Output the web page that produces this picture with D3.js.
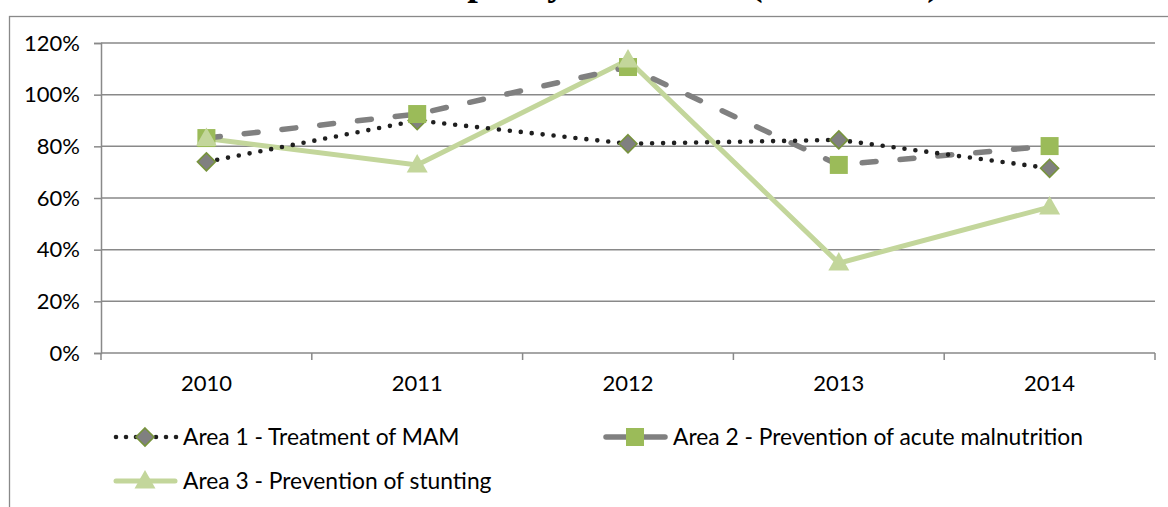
<!DOCTYPE html>
<html>
<meta charset=utf-8>
<head>
  <style>
    body { margin: 0; background: #fff; }
    svg { display: block; }
    text { font-family: Lato, "Noto Sans", sans-serif; fill: #000; }
  </style>
</head>
<body>
<svg id="canvas" width="1168" height="507"></svg>
<script src="https://d3js.org/d3.v7.min.js"></script>
<script>

var years = ['2010', '2011', '2012', '2013', '2014']
var yTicks = [0, 0.2, 0.4, 0.6, 0.8, 1.0, 1.2]

var area1 = [0.74, 0.90, 0.81, 0.825, 0.715]
var area2 = [0.832, 0.925, 1.107, 0.728, 0.801]
var area3 = [0.83, 0.728, 1.134, 0.348, 0.565]

var seriesNames = [
  'Area 1 - Treatment of MAM',
  'Area 2 - Prevention of acute malnutrition',
  'Area 3 - Prevention of stunting'
]

var svg = d3.select('#canvas')
var gridColor = '#898989'

// chart frame (cut off at right and bottom)
svg.append('rect')
  .attr('x', 9.5).attr('y', 16.5)
  .attr('width', 1200).attr('height', 600)
  .attr('fill', 'none')
  .attr('stroke', gridColor)
  .attr('stroke-width', 1.3)

// title, sits above the visible area - only descenders show
svg.append('text')
  .attr('x', 940).attr('y', -5)
  .attr('text-anchor', 'end')
  .style('font-family', '"Liberation Serif", serif')
  .style('font-weight', 'bold')
  .style('font-size', '38px')
  .text('Overall nutrition capacity utilization (2010-2014)')

var x = d3.scaleBand().domain(years).range([101, 1155])
var y = d3.scaleLinear().domain([0, 1.2]).range([353, 43])

// gridlines
svg.append('g')
  .selectAll('line')
  .data(yTicks.slice(1))
  .enter().append('line')
  .attr('x1', 101).attr('x2', 1155)
  .attr('y1', function(d) { return y(d) })
  .attr('y2', function(d) { return y(d) })
  .attr('stroke', gridColor)
  .attr('stroke-width', 1.5)

// y axis
var yAxis = svg.append('g')
  .attr('transform', 'translate(101,0)')
  .call(d3.axisLeft(y).tickValues(yTicks).tickSize(7).tickPadding(14)
    .tickFormat(function(d) { return Math.round(d * 100) + '%' }))
yAxis.select('.domain').attr('stroke', gridColor).attr('stroke-width', 1.5)
yAxis.selectAll('line').attr('stroke', gridColor).attr('stroke-width', 1.5)
yAxis.selectAll('text').style('font-size', '22px').style('font-family', 'Lato')

// x axis with ticks between categories
var xAxis = svg.append('g')
  .attr('transform', 'translate(0,353)')
  .call(d3.axisBottom(x).tickSize(0).tickPadding(22))
xAxis.select('.domain').remove()
xAxis.selectAll('text').style('font-size', '22px').style('font-family', 'Lato')
svg.append('line')
  .attr('x1', 101).attr('x2', 1155).attr('y1', 353).attr('y2', 353)
  .attr('stroke', gridColor).attr('stroke-width', 1.5)
svg.append('g')
  .selectAll('line')
  .data(years.concat(['end']))
  .enter().append('line')
  .attr('x1', function(d, i) { return 101 + i * x.bandwidth() })
  .attr('x2', function(d, i) { return 101 + i * x.bandwidth() })
  .attr('y1', 353).attr('y2', 360)
  .attr('stroke', gridColor).attr('stroke-width', 1.5)

var cx = function(d, i) { return x(years[i]) + x.bandwidth() / 2 }
var line = d3.line().x(cx).y(function(d) { return y(d) })

var styles = [
  { stroke: '#1f1f1f', width: 4.6, dash: '0 11' },
  { stroke: '#808080', width: 5.5, dash: '14 24' },
  { stroke: '#c3d69b', width: 5, dash: null }
]
var data = [area1, area2, area3]

// lines (stunting underneath)
;[2, 1, 0].forEach(function(k) {
  svg.append('path')
    .datum(data[k])
    .attr('d', line)
    .attr('fill', 'none')
    .attr('stroke', styles[k].stroke)
    .attr('stroke-width', styles[k].width)
    .attr('stroke-dasharray', styles[k].dash)
    .attr('stroke-linecap', 'round')
})

function diamond(g) {
  g.append('path').attr('d', 'M0,-9L9,0L0,9L-9,0Z')
    .attr('fill', '#808080').attr('stroke', '#77933c').attr('stroke-width', 1.6)
}
function square(g) {
  g.append('rect').attr('x', -9).attr('y', -9).attr('width', 18).attr('height', 18)
    .attr('fill', '#9bbb59')
}
function triangle(g) {
  g.append('path').attr('d', 'M0,-11L10.5,7.5L-10.5,7.5Z')
    .attr('fill', '#c3d69b')
}
var markers = [diamond, square, triangle]

data.forEach(function(vals, k) {
  svg.append('g')
    .selectAll('g')
    .data(vals)
    .enter().append('g')
    .attr('transform', function(d, i) { return 'translate(' + cx(d, i) + ',' + y(d) + ')' })
    .each(function() { markers[k](d3.select(this)) })
})

// legend
var legendPos = [
  { x: 113, y: 437 },
  { x: 603, y: 437 },
  { x: 113, y: 481 }
]
seriesNames.forEach(function(name, k) {
  var p = legendPos[k]
  var g = svg.append('g').attr('transform', 'translate(' + p.x + ',' + p.y + ')')
  g.append('line')
    .attr('x1', 3).attr('x2', k == 0 ? 64 : 62)
    .attr('y1', 0).attr('y2', 0)
    .attr('stroke', styles[k].stroke)
    .attr('stroke-width', styles[k].width)
    .attr('stroke-dasharray', k == 0 ? '0 10' : null)
    .attr('stroke-linecap', 'round')
  var m = g.append('g').attr('transform', 'translate(32,0)')
  markers[k](m)
  g.append('text')
    .attr('x', 70).attr('y', 8)
    .style('font-size', '22.8px')
    .text(name)
})

</script>
</body>
</html>
